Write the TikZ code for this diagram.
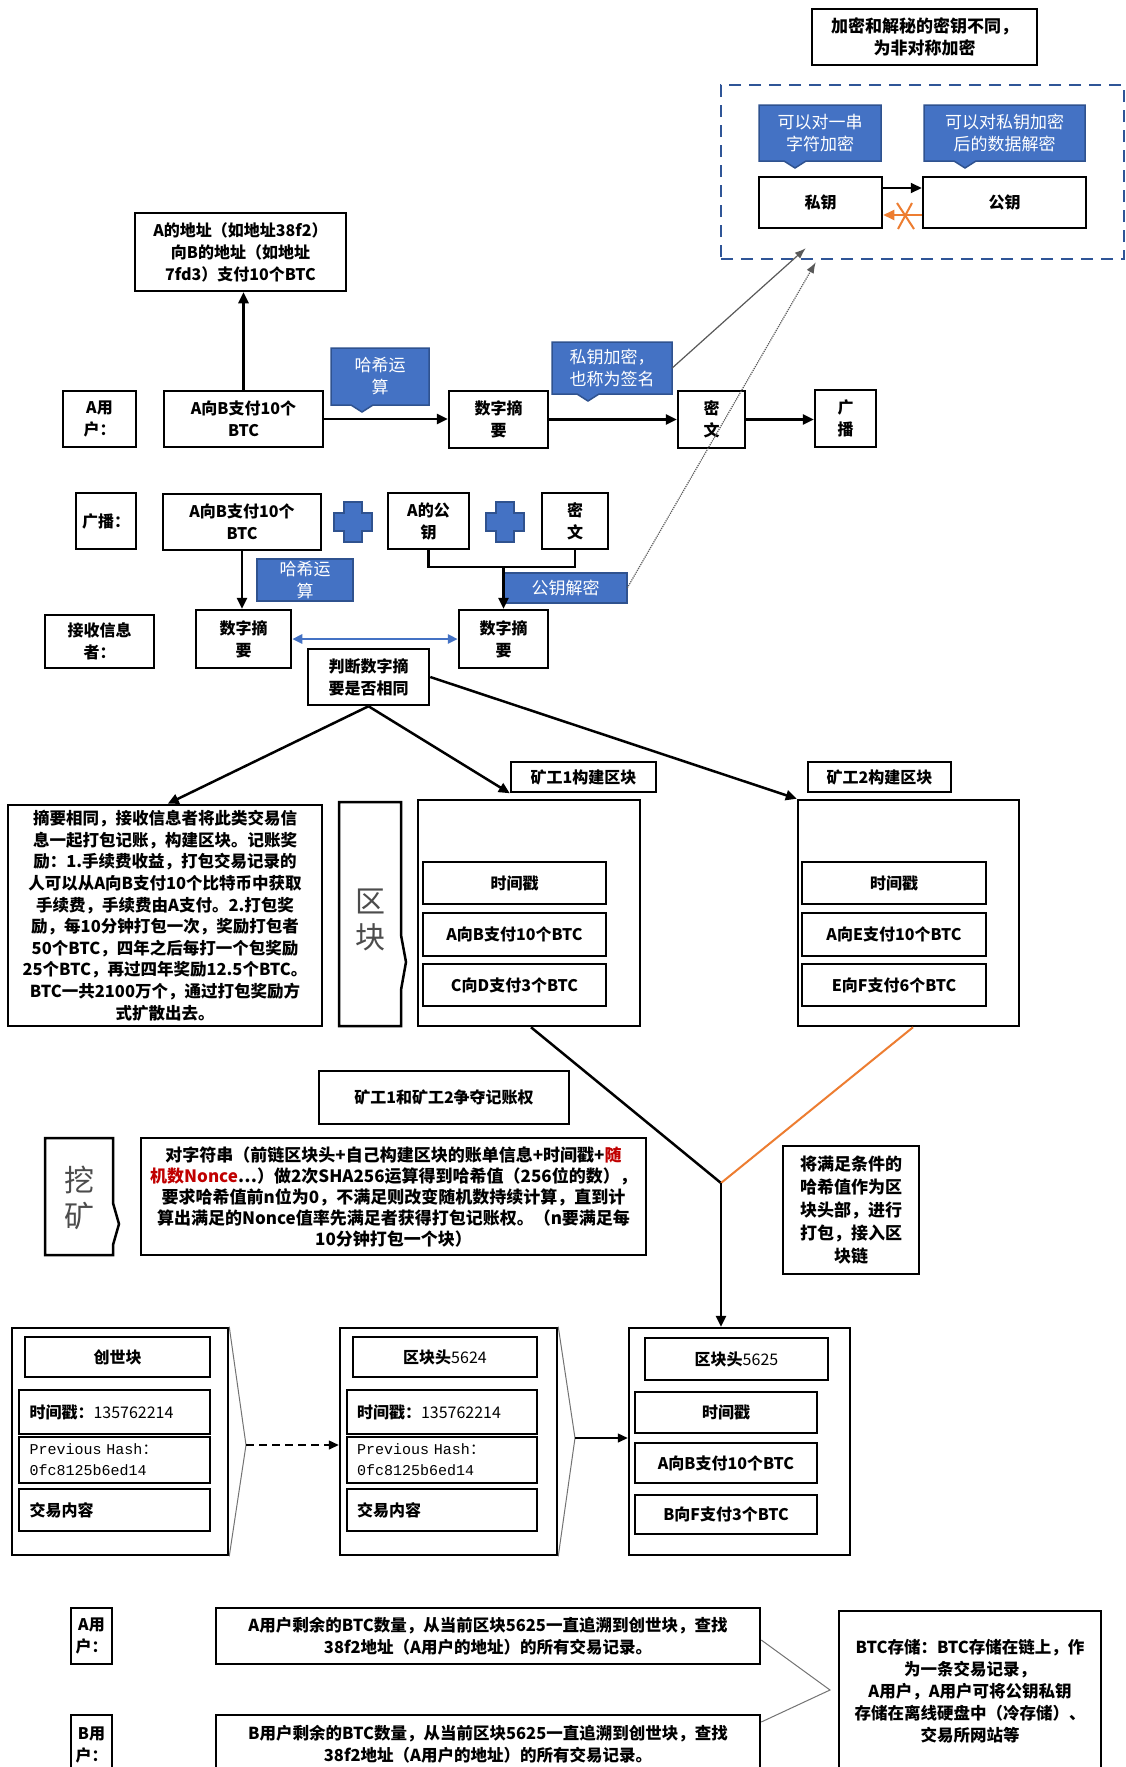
\documentclass[tikz,border=0pt]{standalone}
\usepackage{fontspec}
\setmainfont{Noto Sans CJK SC}
\newfontfamily\monofont{Liberation Mono}
\usetikzlibrary{arrows.meta,calc}
\definecolor{calblue}{HTML}{4472C4}
\definecolor{caledge}{HTML}{2F528F}
\definecolor{zoneblue}{HTML}{2F5597}
\definecolor{orng}{HTML}{ED7D31}
\definecolor{redtxt}{HTML}{C00000}
\tikzset{
  box/.style={draw, line width=2.5pt, fill=white, align=center, inner sep=1pt,
    font=\bfseries\fontsize{16}{22}\selectfont},
  caltext/.style={text=white, align=center, inner sep=0pt, font=\fontsize{17}{22}\selectfont},
  arr/.style={line width=2.5pt, -{Triangle[length=11pt,width=10pt]}},
  conn/.style={line width=2.5pt},
  thinarr/.style={line width=1.5pt, -{Triangle[length=10pt,width=9pt]}},
  faint/.style={draw=black!55, line width=1pt},
  bigchar/.style={font=\fontsize{30}{36}\selectfont, text=black!70, align=center, inner sep=0pt},
}
\newcommand\bx[7][]{\node[box,#1,minimum width={#5pt-#3pt},minimum height={#6pt-#4pt}] (#2) at ({(#3+#5)/2},{(#4+#6)/2}) {#7};}
\newcommand\callout[7]{%
  \fill[calblue, draw=caledge, line width=1.5pt] (#2,#3) -- (#4,#3) -- (#4,#5) -- ({#6+11},#5) -- (#6,{#5+7}) -- ({#6-11},#5) -- (#2,#5) -- cycle;
  \node[caltext, minimum width={#4pt-#2pt}, minimum height={#5pt-#3pt}] (#1) at ({(#2+#4)/2},{(#3+#5)/2}) {#7};}
\newcommand\calrect[6]{%
  \fill[calblue, draw=caledge, line width=1.5pt] (#2,#3) rectangle (#4,#5);
  \node[caltext, minimum width={#4pt-#2pt}, minimum height={#5pt-#3pt}] (#1) at ({(#2+#4)/2},{(#3+#5)/2}) {#6};}
\newcommand\plusmark[3]{%
  \fill[calblue, draw=caledge, line width=1.5pt] ({#2-9},{#3-20}) -- ({#2+9},{#3-20}) -- ({#2+9},{#3-9}) -- ({#2+19},{#3-9}) -- ({#2+19},{#3+9}) -- ({#2+9},{#3+9}) -- ({#2+9},{#3+20}) -- ({#2-9},{#3+20}) -- ({#2-9},{#3+9}) -- ({#2-19},{#3+9}) -- ({#2-19},{#3-9}) -- ({#2-9},{#3-9}) -- cycle;
  \coordinate (#1) at (#2,#3);}
\begin{document}
\begin{tikzpicture}[x=1pt,y=-1pt]
\useasboundingbox (0,0) rectangle (1126,1767);
\fill[white] (0,0) rectangle (1126,1767);
\clip (0,0) rectangle (1126,1767);

% ---- key zone
\node[draw=zoneblue, dash pattern=on 12pt off 8pt, line width=2.5pt, minimum width=403pt, minimum height=174pt, inner sep=0pt] (keyzone) at (922.5,172) {};
\bx[font=\bfseries\fontsize{17}{22}\selectfont]{t1}{812}{9}{1037}{65}{加密和解秘的密钥不同，\\为非对称加密}
\callout{cl1}{759}{105}{881}{161}{795}{可以对一串\\字符加密}
\callout{cl2}{924}{105}{1085}{161}{965}{可以对私钥加密\\后的数据解密}
\bx{sk}{759}{177}{882}{228}{私钥}
\bx{pk}{923}{177}{1086}{228}{公钥}
\draw[arr, line width=2pt] (sk.east |- 0,188) -- (pk.west |- 0,188);
\draw[arr, orng, line width=2pt] (pk.west |- 0,215) -- (sk.east |- 0,215);
\draw[orng, line width=2pt] (897,203) -- (914,229);
\draw[orng, line width=2pt] (912,203) -- (898,229);

% ---- A user row
\bx{addr}{135}{213}{346}{291}{A的地址（如地址38f2）\\向B的地址（如地址\\7fd3）支付10个BTC}
\bx{ua}{63}{391}{136}{447}{A用\\户：}
\bx{tx1}{164}{391}{323}{447}{A向B支付10个\\BTC}
\callout{cl3}{331}{348}{429}{405}{362}{哈希运\\算}
\bx{dg1}{449}{391}{548}{448}{数字摘\\要}
\callout{cl4}{552}{342}{672}{394}{588}{私钥加密，\\也称为签名}
\bx{ct1}{678}{391}{745}{448}{密\\文}
\bx{bc1}{815}{390}{876}{447}{广\\播}
\draw[arr] (tx1.north) -- (tx1.north |- addr.south);
\draw[arr] (tx1.east) -- (tx1.east -| dg1.west);
\draw[arr] (dg1.east) -- (dg1.east -| ct1.west);
\draw[arr] (ct1.east) -- (ct1.east -| bc1.west);

% ---- broadcast row
\bx{bcl}{76}{493}{136}{549}{广播：}
\bx{tx2}{163}{494}{321}{550}{A向B支付10个\\BTC}
\plusmark{plusA}{353}{522}
\bx{pkA}{388}{493}{469}{549}{A的公\\钥}
\plusmark{plusB}{505}{522}
\bx{ct2}{542}{493}{608}{549}{密\\文}
\calrect{cl5}{257}{559}{353}{601}{哈希运\\算}
\calrect{cl6}{504}{573}{627}{603}{公钥解密}
\bx{rcv}{45}{615}{154}{668}{接收信息\\者：}
\bx{dgL}{196}{610}{291}{668}{数字摘\\要}
\bx{dgR}{459}{610}{548}{668}{数字摘\\要}
\bx{judge}{308}{649}{429}{705}{判断数字摘\\要是否相同}
\draw[conn] (pkA.south) -- (pkA.south |- 0,567) -| (ct2.south);
\draw[arr] (dgR.north |- 0,567) -- (dgR.north);
\draw[arr] (tx2.south) -- (tx2.south |- dgL.north);
\draw[calblue, line width=2.5pt, {Triangle[length=10pt,width=9pt]}-{Triangle[length=10pt,width=9pt]}] (dgL.east |- 0,639) -- (dgR.west |- 0,639);

% connectors to key zone
\draw[black!65, line width=1.2pt, -{Latex[length=11pt,width=8pt]}] (cl4.east) -- ([xshift=86pt,yshift=12pt]keyzone.south west);
\draw[black!65, line width=1.2pt, densely dotted, -{Latex[length=11pt,width=8pt]}] (cl6.east) -- ([xshift=96pt,yshift=-2pt]keyzone.south west);

% ---- blocks
\bx[font=\bfseries\fontsize{16.5}{21.6}\selectfont]{big}{8}{805}{322}{1026}{摘要相同，接收信息者将此类交易信\\息一起打包记账，构建区块。记账奖\\励：1.手续费收益，打包交易记录的\\人可以从A向B支付10个比特币中获取\\手续费，手续费由A支付。2.打包奖\\励，每10分钟打包一次，奖励打包者\\50个BTC，四年之后每打一个包奖励\\25个BTC，再过四年奖励12.5个BTC。\\BTC一共2100万个，通过打包奖励方\\式扩散出去。}
\draw[line width=2.5pt, fill=white] (339,802) -- (401,802) -- (401,935) -- (406,962) -- (401,990) -- (401,1026) -- (339,1026) -- cycle;
\node[bigchar] (qk) at (370,920) {区\\块};

\bx{m1lab}{511}{762}{656}{792}{矿工1构建区块}
\bx{m1}{418}{800}{640}{1026}{}
\bx{m1a}{423}{862}{606}{904}{时间戳}
\bx{m1b}{423}{913}{606}{956}{A向B支付10个BTC}
\bx{m1c}{423}{964}{606}{1006}{C向D支付3个BTC}
\bx{m2lab}{808}{762}{951}{792}{矿工2构建区块}
\bx{m2}{798}{800}{1019}{1026}{}
\bx{m2a}{802}{862}{986}{904}{时间戳}
\bx{m2b}{802}{913}{986}{956}{A向E支付10个BTC}
\bx{m2c}{802}{964}{986}{1006}{E向F支付6个BTC}

\draw[arr] (judge.south) -- ([xshift=161pt]big.north west);
\draw[arr] (judge.south) -- (m1lab.south west);
\draw[arr] (judge.east) -- (m2.north west);

% ---- mining
\bx{compete}{319}{1071}{569}{1124}{矿工1和矿工2争夺记账权}
\draw[line width=2.5pt, fill=white] (45,1138) -- (113,1138) -- (113,1203) -- (119,1224) -- (113,1245) -- (113,1255) -- (45,1255) -- cycle;
\node[bigchar] (wk) at (79,1198) {挖\\矿};
\bx[font=\bfseries\fontsize{17}{21}\selectfont]{mine}{141}{1138}{646}{1255}{对字符串（前链区块头+自己构建区块的账单信息+时间戳+\textcolor{redtxt}{随}\\\textcolor{redtxt}{机数Nonce}…）做2次SHA256运算得到哈希值（256位的数），\\要求哈希值前n位为0，不满足则改变随机数持续计算，直到计\\算出满足的Nonce值率先满足者获得打包记账权。（n要满足每\\10分钟打包一个块）}
\bx[font=\bfseries\fontsize{17}{23}\selectfont]{pack}{783}{1146}{919}{1274}{将满足条件的\\哈希值作为区\\块头部，进行\\打包，接入区\\块链}
\coordinate (J) at (721,1183);

% ---- chain
\bx{g0}{12}{1328}{228}{1555}{}
\bx{g1}{25}{1337}{210}{1377}{创世块}
\bx[text width=170pt, align=left]{g2}{19}{1390}{210}{1434}{时间戳：{\mdseries 135762214}}
\bx[text width=170pt, align=left, font=\fontsize{15}{21}\selectfont]{g3}{19}{1437}{210}{1483}{{\monofont Previous Hash}：\\{\monofont 0fc8125b6ed14}}
\bx[text width=170pt, align=left]{g4}{19}{1489}{210}{1531}{交易内容}

\bx{b1}{340}{1328}{557}{1555}{}
\bx{b1a}{353}{1337}{537}{1377}{区块头{\mdseries 5624}}
\bx[text width=170pt, align=left]{b1b}{347}{1390}{537}{1434}{时间戳：{\mdseries 135762214}}
\bx[text width=170pt, align=left, font=\fontsize{15}{21}\selectfont]{b1c}{347}{1437}{537}{1483}{{\monofont Previous Hash}：\\{\monofont 0fc8125b6ed14}}
\bx[text width=170pt, align=left]{b1d}{347}{1489}{537}{1531}{交易内容}

\bx{b3}{629}{1328}{850}{1555}{}
\bx{b3a}{645}{1338}{828}{1380}{区块头{\mdseries 5625}}
\bx{b3b}{635}{1392}{817}{1433}{时间戳}
\bx{b3c}{635}{1443}{817}{1483}{A向B支付10个BTC}
\bx{b3d}{635}{1495}{817}{1534}{B向F支付3个BTC}

\draw[conn] (m1.south -| 531,0) -- (J);
\draw[orng, line width=2pt] (m2.south -| 913,0) -- (J);
\draw[arr] (J) -- (J |- b3.north);

\coordinate (chevA) at (246,1445);
\coordinate (chevB) at (575,1438);
\draw[faint] (g0.north east) -- (chevA) -- (g0.south east);
\draw[faint] (b1.north east) -- (chevB) -- (b1.south east);
\draw[thinarr, dash pattern=on 8pt off 5pt] (chevA) -- (chevA -| b1.west);
\draw[thinarr] (chevB) -- (chevB -| b3.west);

% ---- users
\bx{uA}{71}{1608}{112}{1664}{A用\\户：}
\bx[font=\bfseries\fontsize{16.5}{22}\selectfont]{qA}{216}{1608}{760}{1664}{A用户剩余的BTC数量，从当前区块5625一直追溯到创世块，查找\\38f2地址（A用户的地址）的所有交易记录。}
\bx{uB}{71}{1715}{112}{1775}{B用\\户：}
\bx[font=\bfseries\fontsize{16.5}{22}\selectfont]{qB}{216}{1715}{760}{1773}{B用户剩余的BTC数量，从当前区块5625一直追溯到创世块，查找\\38f2地址（A用户的地址）的所有交易记录。}
\bx[font=\bfseries\fontsize{16.5}{22}\selectfont]{store}{839}{1611}{1101}{1771}{BTC存储：BTC存储在链上，作\\为一条交易记录，\\A用户，A用户可将公钥私钥\\存储在离线硬盘中（冷存储）、\\交易所网站等}
\coordinate (vtip) at (830,1690);
\draw[faint] ([yshift=-4pt]qA.east) -- (vtip) -- ([yshift=22pt]qB.east);
\end{tikzpicture}
\end{document}
